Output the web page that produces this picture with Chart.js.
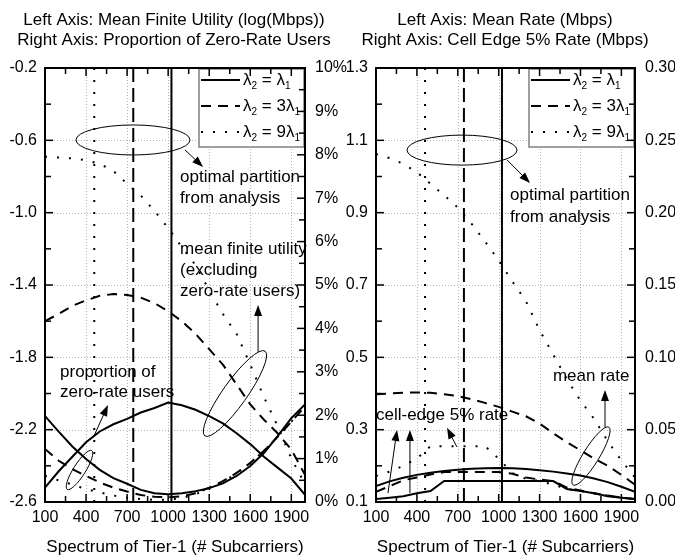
<!DOCTYPE html>
<html>
<head>
<meta charset="utf-8">
<script src="https://cdn.jsdelivr.net/npm/chart.js@4/dist/chart.umd.min.js"></script>
<style>
  html, body { margin: 0; padding: 0; background: #fff; }
  #wrap { position: relative; width: 675px; height: 556px; overflow: hidden; background: #fff; }
  canvas { position: absolute; top: 0; }
  #c1 { left: 0; }
  #c2 { left: 320px; }
</style>
</head>
<body>
<div id="wrap">
  <canvas id="c1" width="360" height="556"></canvas>
  <canvas id="c2" width="355" height="556"></canvas>
</div>
<script>
const FONT = "'Liberation Sans', Arial, Helvetica, sans-serif";

// Spectrum given to tier 1 (number of subcarriers)
const subcarriers = [100, 200, 300, 400, 500, 600, 700, 800, 900, 1000,
                     1100, 1200, 1300, 1400, 1500, 1600, 1700, 1800, 1900, 2000];
const seriesNames = ['λ2 = λ1', 'λ2 = 3λ1', 'λ2 = 9λ1'];
// optimal partition from analysis, one per load ratio
const optimalPartition = [1024, 745, 460];

// Left panel: mean finite utility (log(Mbps))
const utilEq = [-2.52, -2.43, -2.35, -2.27, -2.21, -2.17, -2.14, -2.105, -2.08, -2.05,
                -2.065, -2.09, -2.125, -2.165, -2.22, -2.28, -2.35, -2.41, -2.47, -2.56];
const util3  = [-1.60, -1.56, -1.515, -1.485, -1.46, -1.45, -1.455, -1.47, -1.50, -1.545,
                -1.60, -1.67, -1.755, -1.84, -1.95, -2.06, -2.145, -2.22, -2.31, -2.45];
const util9  = [-0.69, -0.695, -0.70, -0.71, -0.73, -0.77, -0.84, -0.905, -0.99, -1.085,
                -1.19, -1.29, -1.43, -1.56, -1.67, -1.84, -2.02, -2.18, -2.36, -2.50];
// Left panel: proportion of zero-rate users (%)
const zeroEq = [1.98, 1.62, 1.28, 0.99, 0.74, 0.55, 0.42, 0.28, 0.20, 0.18,
                0.20, 0.25, 0.32, 0.43, 0.60, 0.83, 1.13, 1.52, 1.93, 2.25];
const zero3  = [1.22, 0.95, 0.76, 0.60, 0.45, 0.33, 0.24, 0.16, 0.12, 0.11,
                0.13, 0.20, 0.33, 0.48, 0.67, 0.90, 1.18, 1.50, 1.85, 2.20];
const zero9  = [0.60, 0.50, 0.40, 0.30, 0.22, 0.15, 0.10, 0.07, 0.05, 0.05,
                0.09, 0.18, 0.30, 0.46, 0.66, 0.90, 1.18, 1.50, 1.85, 2.20];

// Right panel: mean rate (Mbps)
const rateEq = [0.144, 0.157, 0.167, 0.175, 0.181, 0.186, 0.189, 0.192, 0.193, 0.194,
                0.193, 0.191, 0.188, 0.184, 0.179, 0.173, 0.165, 0.155, 0.142, 0.128];
const rate3  = [0.398, 0.400, 0.402, 0.403, 0.402, 0.398, 0.393, 0.384, 0.374, 0.363,
                0.350, 0.337, 0.317, 0.290, 0.265, 0.243, 0.220, 0.200, 0.175, 0.148];
const rate9  = [1.062, 1.051, 1.035, 1.012, 0.980, 0.948, 0.914, 0.870, 0.820, 0.768,
                0.710, 0.655, 0.575, 0.508, 0.440, 0.380, 0.330, 0.268, 0.215, 0.168];
// Right panel: cell edge 5% rate (Mbps)
const edgeEq = [0.002, 0.003, 0.004, 0.006, 0.0076, 0.0145, 0.0145, 0.0145, 0.0145, 0.0145,
                0.0145, 0.0145, 0.0145, 0.0145, 0.009, 0.0076, 0.006, 0.004, 0.003, 0.002];
const edge3  = [0.007, 0.011, 0.015, 0.017, 0.019, 0.0207, 0.0207, 0.0207, 0.0207, 0.0207,
                0.0195, 0.017, 0.0155, 0.0145, 0.010, 0.008, 0.006, 0.0045, 0.003, 0.002];
const edge9  = [0.018, 0.021, 0.025, 0.030, 0.0386, 0.0386, 0.0386, 0.0386, 0.0386, 0.030,
                0.020, 0.016, 0.0145, 0.012, 0.009, 0.0076, 0.006, 0.0045, 0.003, 0.002];

// Tick values
const xTickLabels = [100, 400, 700, 1000, 1300, 1600, 1900];
const xMinorTicks = [250, 550, 850, 1150, 1450, 1750];
const utilTicks = [-2.6, -2.2, -1.8, -1.4, -1.0, -0.6, -0.2];
const zeroTicks = [0, 1, 2, 3, 4, 5, 6, 7, 8, 9, 10];
const rateTicks = [0.1, 0.3, 0.5, 0.7, 0.9, 1.1, 1.3];
const edgeTicks = [0, 0.05, 0.10, 0.15, 0.20, 0.25, 0.30];

// line styles per load ratio: solid, dashed, dotted
const lineDash = [[], [10, 7], [2, 10]];
const partitionDash = [[], [14, 6], [2, 10]];

Chart.defaults.font.family = FONT;
Chart.defaults.font.size = 16;
Chart.defaults.color = '#000';

function curve(ys, i, axis) {
  return {
    label: seriesNames[i],
    data: subcarriers.map((x, k) => ({ x, y: ys[k] })),
    yAxisID: axis,
    borderColor: '#000', borderWidth: 2, borderDash: lineDash[i],
    pointRadius: 0, tension: 0, fill: false
  };
}
function partitionLine(i, lo, hi) {
  return {
    label: 'partition ' + seriesNames[i],
    data: [{ x: optimalPartition[i], y: lo }, { x: optimalPartition[i], y: hi }],
    yAxisID: 'y',
    borderColor: '#000', borderWidth: 2, borderDash: partitionDash[i],
    pointRadius: 0, fill: false
  };
}

function arrow(ctx, x1, y1, x2, y2) {
  const a = Math.atan2(y2 - y1, x2 - x1), L = 11, W = 4;
  const c = Math.cos(a), s = Math.sin(a);
  ctx.beginPath(); ctx.moveTo(x1, y1); ctx.lineTo(x2 - L * 0.7 * c, y2 - L * 0.7 * s); ctx.stroke();
  ctx.beginPath();
  ctx.moveTo(x2, y2);
  ctx.lineTo(x2 - L * c + W * s, y2 - L * s - W * c);
  ctx.lineTo(x2 - L * c - W * s, y2 - L * s + W * c);
  ctx.closePath(); ctx.fill();
}

// "λ2 = 3λ1" with the digit after each λ set as a subscript
function drawLambda(ctx, text, x, y) {
  let cx = x;
  const parts = text.split(/(λ\d)/).filter(p => p.length);
  ctx.textBaseline = 'middle'; ctx.textAlign = 'left';
  parts.forEach(p => {
    if (/^λ\d$/.test(p)) {
      ctx.font = '17px ' + FONT; ctx.fillText('λ', cx, y); cx += ctx.measureText('λ').width;
      ctx.font = '10px ' + FONT; ctx.fillText(p[1], cx, y + 6); cx += ctx.measureText(p[1]).width;
    } else {
      ctx.font = '17px ' + FONT; ctx.fillText(p, cx, y); cx += ctx.measureText(p).width;
    }
  });
}

function makeDecor(spec) {
  return {
    id: 'panelDecor',
    beforeDatasetsDraw(chart) {
      const { ctx, chartArea: a, scales } = chart;
      ctx.save();
      ctx.strokeStyle = '#b4b4b4'; ctx.lineWidth = 1; ctx.setLineDash([1, 2]);
      xTickLabels.forEach(v => {
        const px = Math.round(scales.x.getPixelForValue(v)) + 0.5;
        if (px < a.left + 2 || px > a.right - 2) return;
        ctx.beginPath(); ctx.moveTo(px, a.top); ctx.lineTo(px, a.bottom); ctx.stroke();
      });
      spec.yTicks.forEach(v => {
        const py = Math.round(scales.y.getPixelForValue(v)) + 0.5;
        if (py < a.top + 2 || py > a.bottom - 2) return;
        ctx.beginPath(); ctx.moveTo(a.left, py); ctx.lineTo(a.right, py); ctx.stroke();
      });
      ctx.restore();
    },
    afterDatasetsDraw(chart) {
      const { ctx, chartArea: a, scales } = chart;
      const X = v => scales.x.getPixelForValue(v);
      const Y = v => scales.y.getPixelForValue(v);
      ctx.save();
      ctx.setLineDash([]);
      ctx.strokeStyle = '#000'; ctx.fillStyle = '#000'; ctx.lineWidth = 1;
      // notes: ellipses, arrows and text
      spec.notes.ellipses.forEach(e => {
        ctx.beginPath();
        ctx.ellipse(X(e.x), Y(e.y), e.rx, e.ry, e.rot * Math.PI / 180, 0, 2 * Math.PI);
        ctx.stroke();
      });
      spec.notes.arrows.forEach(r => arrow(ctx, X(r.x1), Y(r.y1), X(r.x2), Y(r.y2)));
      ctx.font = '17px ' + FONT; ctx.textAlign = 'left'; ctx.textBaseline = 'middle';
      spec.notes.texts.forEach(t => {
        t.lines.forEach((ln, k) => ctx.fillText(ln, X(t.x), Y(t.y) + k * t.step));
      });
      // legend
      const bw = 105, bh = 78;
      const bx = a.right - bw - 1, by = a.top + 1;
      ctx.fillStyle = '#fff'; ctx.fillRect(bx, by, bw, bh);
      ctx.strokeStyle = '#808080'; ctx.lineWidth = 1.5; ctx.strokeRect(bx, by, bw, bh);
      ctx.strokeStyle = '#000'; ctx.fillStyle = '#000';
      seriesNames.forEach((name, i) => {
        const ly = by + 11 + i * 26;
        ctx.lineWidth = 2; ctx.setLineDash(lineDash[i]);
        ctx.beginPath(); ctx.moveTo(bx + 2, ly); ctx.lineTo(bx + 41, ly); ctx.stroke();
        ctx.setLineDash([]);
        drawLambda(ctx, name, bx + 44, ly);
      });
      // frame
      ctx.lineWidth = 2; ctx.strokeStyle = '#000';
      ctx.strokeRect(a.left, a.top, a.right - a.left, a.bottom - a.top);
      // inward ticks
      ctx.lineWidth = 1.5;
      const tick = (x1, y1, x2, y2) => { ctx.beginPath(); ctx.moveTo(x1, y1); ctx.lineTo(x2, y2); ctx.stroke(); };
      const mids = arr => arr.slice(1).map((v, k) => (v + arr[k]) / 2);
      xTickLabels.forEach(v => { const p = X(v); tick(p, a.bottom, p, a.bottom - 8); tick(p, a.top, p, a.top + 8); });
      xMinorTicks.forEach(v => { const p = X(v); tick(p, a.bottom, p, a.bottom - 6); tick(p, a.top, p, a.top + 6); });
      spec.yTicks.forEach(v => { const p = Y(v); tick(a.left, p, a.left + 8, p); });
      mids(spec.yTicks).forEach(v => { const p = Y(v); tick(a.left, p, a.left + 6, p); });
      const Y2 = v => scales.y2.getPixelForValue(v);
      spec.y2Ticks.forEach(v => { const p = Y2(v); tick(a.right, p, a.right - 8, p); });
      mids(spec.y2Ticks).forEach(v => { const p = Y2(v); tick(a.right, p, a.right - 6, p); });
      ctx.restore();
    }
  };
}

function makePanel(canvasId, spec) {
  const lo = spec.yTicks[0], hi = spec.yTicks[spec.yTicks.length - 1];
  const lo2 = spec.y2Ticks[0], hi2 = spec.y2Ticks[spec.y2Ticks.length - 1];
  const datasets = [];
  spec.leftSeries.forEach((ys, i) => datasets.push(curve(ys, i, 'y')));
  spec.rightSeries.forEach((ys, i) => datasets.push(curve(ys, i, 'y2')));
  optimalPartition.forEach((p, i) => datasets.push(partitionLine(i, lo, hi)));
  const tickFont = { size: 16 };
  const noGrid = { display: false, drawTicks: false, tickLength: 0 };
  return new Chart(document.getElementById(canvasId), {
    type: 'line',
    data: { datasets },
    options: {
      responsive: false, animation: false, devicePixelRatio: 1,
      layout: { padding: spec.padding },
      plugins: {
        legend: { display: false }, tooltip: { enabled: false },
        title: {
          display: true, text: spec.title, color: '#000',
          font: { size: 17, weight: 'normal', lineHeight: 1.2 },
          padding: { top: 10, bottom: 17.2 }
        }
      },
      scales: {
        x: {
          type: 'linear', min: 100, max: 2000,
          grid: noGrid, border: { display: false },
          afterBuildTicks: s => { s.ticks = xTickLabels.map(v => ({ value: v })); },
          afterFit: s => { s.height = 54; },
          ticks: { padding: 6, color: '#000', font: tickFont, maxRotation: 0, autoSkip: false,
                   callback: v => String(v) },
          title: { display: true, text: 'Spectrum of Tier-1 (# Subcarriers)', color: '#000',
                   font: { size: 17, lineHeight: 1 }, padding: 0 }
        },
        y: {
          type: 'linear', position: 'left', min: lo, max: hi,
          grid: noGrid, border: { display: false },
          afterBuildTicks: s => { s.ticks = spec.yTicks.map(v => ({ value: v })); },
          afterFit: s => { s.width = spec.leftWidth; },
          ticks: { padding: 8, color: '#000', font: tickFont, callback: spec.yFmt }
        },
        y2: {
          type: 'linear', position: 'right', min: lo2, max: hi2,
          grid: noGrid, border: { display: false },
          afterBuildTicks: s => { s.ticks = spec.y2Ticks.map(v => ({ value: v })); },
          afterFit: s => { s.width = spec.rightWidth; },
          ticks: { padding: 10, color: '#000', font: tickFont, callback: spec.y2Fmt }
        }
      }
    },
    plugins: [makeDecor(spec)]
  });
}

makePanel('c1', {
  title: ['Left Axis: Mean Finite Utility (log(Mbps))', 'Right Axis: Proportion of Zero-Rate Users'],
  padding: { left: 0, right: 12, top: 0, bottom: 0 },
  leftWidth: 45, rightWidth: 43,
  yTicks: utilTicks, y2Ticks: zeroTicks,
  yFmt: v => Number(v).toFixed(1), y2Fmt: v => v + '%',
  leftSeries: [utilEq, util3, util9],
  rightSeries: [zeroEq, zero3, zero9],
  notes: {
    ellipses: [
      { x: 743, y: -0.598, rx: 57, ry: 15, rot: 0 },
      { x: 1488, y: -2.0, rx: 52, ry: 12, rot: -54.6 },
      { x: 352, y: -2.423, rx: 23, ry: 6, rot: -57.7 }
    ],
    arrows: [
      { x1: 1123, y1: -0.653, x2: 1255, y2: -0.747 },
      { x1: 1657, y1: -1.77, x2: 1657, y2: -1.51 },
      { x1: 458, y1: -2.235, x2: 560, y2: -2.064 }
    ],
    texts: [
      { x: 1087, y: -0.803, step: 21, lines: ['optimal partition', 'from analysis'] },
      { x: 1087, y: -1.201, step: 21, lines: ['mean finite utility', '(excluding', 'zero-rate users)'] },
      { x: 210, y: -1.881, step: 20, lines: ['proportion of', 'zero-rate users'] }
    ]
  }
});

makePanel('c2', {
  title: ['Left Axis: Mean Rate (Mbps)', 'Right Axis: Cell Edge 5% Rate (Mbps)'],
  padding: { left: 15, right: 0, top: 0, bottom: 0 },
  leftWidth: 41, rightWidth: 40,
  yTicks: rateTicks, y2Ticks: edgeTicks,
  yFmt: v => Number(v).toFixed(1), y2Fmt: v => Number(v).toFixed(2),
  leftSeries: [rateEq, rate3, rate9],
  rightSeries: [edgeEq, edge3, edge9],
  notes: {
    ellipses: [
      { x: 731, y: 1.073, rx: 55, ry: 15, rot: 0 },
      { x: 1677, y: 0.227, rx: 34, ry: 8, rot: -58.3 }
    ],
    arrows: [
      { x1: 1061, y1: 1.046, x2: 1230, y2: 0.982 },
      { x1: 1780, y1: 0.307, x2: 1780, y2: 0.410 },
      { x1: 188, y1: 0.125, x2: 254, y2: 0.299 },
      { x1: 349, y1: 0.125, x2: 349, y2: 0.299 },
      { x1: 694, y1: 0.252, x2: 621, y2: 0.305 }
    ],
    texts: [
      { x: 1083, y: 0.949, step: 22, lines: ['optimal partition', 'from analysis'] },
      { x: 1398, y: 0.448, step: 22, lines: ['mean rate'] },
      { x: 100, y: 0.341, step: 22, lines: ['cell-edge 5% rate'] }
    ]
  }
});
</script>
</body>
</html>
